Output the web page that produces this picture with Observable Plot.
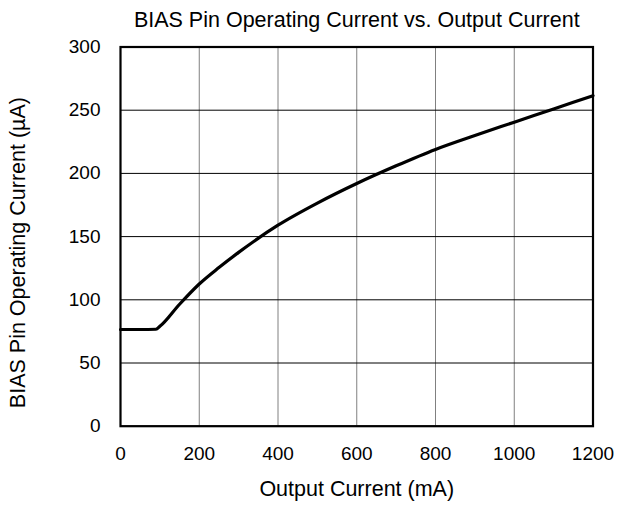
<!DOCTYPE html>
<html>
<head>
<meta charset="utf-8">
<script src="https://cdn.jsdelivr.net/npm/d3@7"></script>
<script src="https://cdn.jsdelivr.net/npm/@observablehq/plot@0.6"></script>
<style>
  html, body { margin: 0; padding: 0; background: #fff; }
  svg { font-family: "Liberation Sans", Arial, sans-serif; }
</style>
</head>
<body>
<div id="chart"></div>
<script>
const outputCurrent = [0, 50, 90, 100, 150, 200, 250, 300, 400, 500, 600, 700, 800, 900, 1000, 1100, 1200];
const biasCurrent   = [76.5, 76.5, 76.7, 79, 96.5, 112.5, 125.5, 137.5, 159, 176.5, 192, 206, 219, 230, 240.5, 251, 261.5];
const xTicks = [0, 200, 400, 600, 800, 1000, 1200];
const yTicks = [0, 50, 100, 150, 200, 250, 300];
const title = "BIAS Pin Operating Current vs. Output Current";
const xLabel = "Output Current (mA)";
const yLabel = "BIAS Pin Operating Current (µA)";

const data = outputCurrent.map((x, i) => ({x, y: biasCurrent[i]}));

const chart = Plot.plot({
  width: 617,
  height: 506,
  marginLeft: 120,
  marginRight: 24.5,
  marginTop: 46.5,
  marginBottom: 80.3,
  style: {fontFamily: "Liberation Sans, Arial, sans-serif", fontSize: "19px", color: "#000", background: "#fff"},
  x: {domain: [0, 1200], ticks: xTicks, label: null},
  y: {domain: [0, 300], ticks: yTicks, label: null},
  marks: [
    Plot.gridX(xTicks, {stroke: "#808080", strokeOpacity: 1, strokeWidth: 1}),
    Plot.gridY(yTicks, {stroke: "#000", strokeOpacity: 1, strokeWidth: 1}),
    Plot.axisX(xTicks, {tickSize: 0, tickPadding: 20, fontSize: 19, tickFormat: d => String(d)}),
    Plot.axisY(yTicks, {tickSize: 0, tickPadding: 20, fontSize: 19, tickFormat: d => String(d)}),
    Plot.line(data, {x: "x", y: "y", curve: "monotone-x", stroke: "#000", strokeWidth: 3.2}),
    Plot.frame({stroke: "#000", strokeWidth: 2.2}),
    Plot.text([title], {frameAnchor: "top", textAnchor: "middle", lineAnchor: "middle", dy: -27, fontSize: 21.5, fill: "#000"}),
    Plot.text([xLabel], {frameAnchor: "bottom", textAnchor: "middle", lineAnchor: "middle", dy: 63.3, fontSize: 21.5, fill: "#000"}),
    Plot.text([yLabel], {frameAnchor: "left", textAnchor: "middle", lineAnchor: "middle", dx: -102.5, dy: 16, rotate: -90, fontSize: 21.5, fill: "#000"})
  ]
});
document.getElementById("chart").appendChild(chart);
</script>
</body>
</html>
